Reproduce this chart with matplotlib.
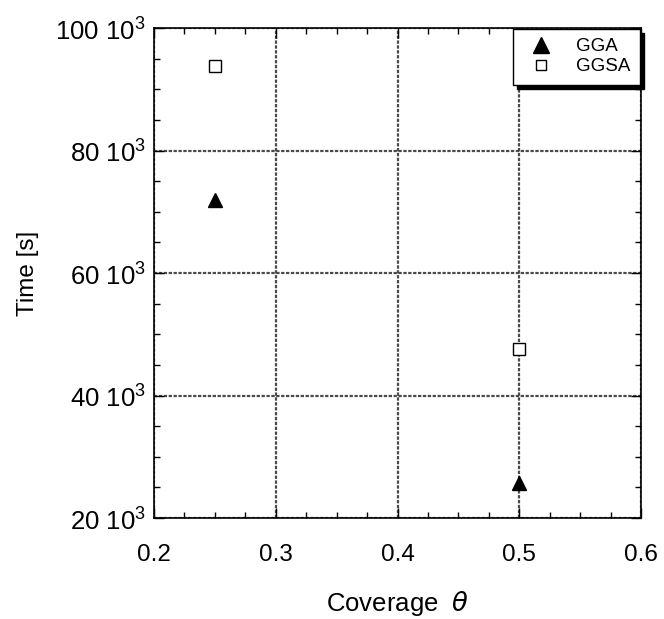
import matplotlib
matplotlib.use("Agg")
import matplotlib.pyplot as plt
from matplotlib.ticker import FuncFormatter, AutoMinorLocator
from matplotlib.lines import Line2D

plt.rcParams['font.family'] = ['Liberation Sans', 'DejaVu Sans']
plt.rcParams['mathtext.fontset'] = 'custom'
plt.rcParams['mathtext.rm'] = 'Liberation Sans'
plt.rcParams['mathtext.it'] = 'DejaVu Sans:italic'

coverage = [0.25, 0.5]
gga_time = [72.0e3, 25.7e3]
ggsa_time = [93.8e3, 47.6e3]
x_ticks = [0.2, 0.3, 0.4, 0.5, 0.6]
y_ticks = [20e3, 40e3, 60e3, 80e3, 100e3]

fig = plt.figure(figsize=(6.64, 6.19), dpi=100)
ax = fig.add_axes([154/664, 1-518/619, (641-154)/664, (518-28)/619])

ax.plot(coverage, gga_time, linestyle='none', marker='^', markersize=10,
        color='black', label='GGA', zorder=5)
ax.plot(coverage, ggsa_time, linestyle='none', marker='s', markersize=9,
        markerfacecolor='white', markeredgecolor='black', markeredgewidth=1,
        label='GGSA', zorder=5)

ax.set_xlim(0.2, 0.6)
ax.set_ylim(20e3, 100e3)
ax.set_xticks(x_ticks)
ax.set_yticks(y_ticks)
ax.xaxis.set_minor_locator(AutoMinorLocator(4))
ax.yaxis.set_minor_locator(AutoMinorLocator(4))
ax.xaxis.set_major_formatter(FuncFormatter(lambda v, p: f"{v:.1f}"))
ax.yaxis.set_major_formatter(FuncFormatter(lambda v, p: f"{int(round(v/1e3))} $10^3$"))

ax.tick_params(which='both', direction='in', top=True, right=True, width=1)
ax.tick_params(axis='x', labelsize=17.5)
ax.tick_params(axis='y', labelsize=18.5)
ax.tick_params(which='major', length=7)
ax.tick_params(axis='y', which='major', pad=6)
ax.tick_params(axis='x', which='major', pad=19)
ax.tick_params(which='minor', length=4)
ax.grid(True, which='major', color='#4a4a4a', linestyle=(0, (1.5, 0.7)), linewidth=1.6)
for s in ax.spines.values():
    s.set_linewidth(1.2)

ax.set_xlabel(r'Coverage  $\theta$', fontsize=18.5, labelpad=16)
ax.set_ylabel('Time [s]', fontsize=17.5, labelpad=12)

handles = [
    Line2D([], [], linestyle='none', marker='^', markersize=11, color='black'),
    Line2D([], [], linestyle='none', marker='s', markersize=7,
           markerfacecolor='white', markeredgecolor='black', markeredgewidth=1),
]
leg = ax.legend(handles, ['GGA', 'GGSA'], loc='upper right', borderaxespad=0.05,
                fontsize=13.5, fancybox=False,
                shadow={'color': 'black', 'alpha': 1, 'ox': 3, 'oy': -3},
                framealpha=1, edgecolor='black', handlelength=2.0,
                handletextpad=0.9, borderpad=0.5, labelspacing=0.15, numpoints=1)
leg.get_frame().set_linewidth(1)

fig.savefig('out.png', dpi=100)
